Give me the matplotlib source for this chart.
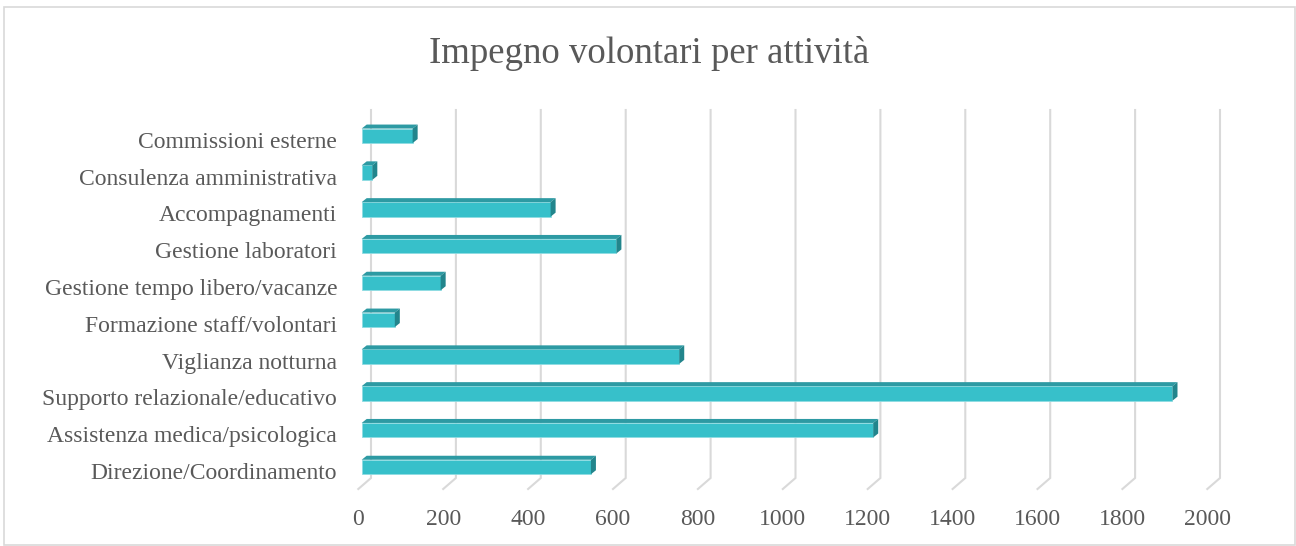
import numpy as np
import matplotlib
matplotlib.use("Agg")
from matplotlib import pyplot as plt
from matplotlib.patches import Polygon, Rectangle
from matplotlib.transforms import ScaledTranslation

# dati (dal basso verso l'alto)
categorie = ["Direzione/Coordinamento",
             "Assistenza medica/psicologica",
             "Supporto relazionale/educativo",
             "Viglianza notturna",
             "Formazione staff/volontari",
             "Gestione tempo libero/vacanze",
             "Gestione laboratori",
             "Accompagnamenti",
             "Consulenza amministrativa",
             "Commissioni esterne"]
ore = [540, 1205, 1910, 748, 78, 186, 600, 445, 25, 120]
xticks = [0, 200, 400, 600, 800, 1000, 1200, 1400, 1600, 1800, 2000]
titolo = "Impegno volontari per attività"

plt.rcParams['font.family'] = ['Liberation Serif', 'DejaVu Serif']
grigio = '#595959'
W, H = 1296, 546

fig = plt.figure(figsize=(W/100, H/100), dpi=100)

# area del grafico in pixel: sinistra 340, destra 1250, alto 100, basso 500
L, R, T, B = 340, 1250, 100, 500
ax = fig.add_axes([L/W, 1 - B/H, (R-L)/W, (B-T)/H])

# scala: valore 0 -> px 361.7, 0.4245 px per unita; categoria 0 -> px 467, 36.8 px per categoria
x0, sx = 361.7, 0.4245
y0, sy = 467.0, 36.8
ax.set_xlim((L - x0)/sx, (R - x0)/sx)
ax.set_ylim((y0 - B)/sy, (y0 - T)/sy)

# profondita 3d in unita dati
dx = 5/sx
dy = 4/sy
h = 14.5/sy

# griglia: piano di fondo + diagonale sul pavimento
back_off = 9.3/sx
front_off = -3.4/sx
y_top = (y0 - 110)/sy
y_back = (y0 - 478)/sy
y_front = (y0 - 489)/sy
for v in xticks:
    ax.plot([v + back_off, v + back_off, v + front_off],
            [y_top, y_back, y_front], color='#D9D9D9', lw=1.5,
            solid_joinstyle='miter', clip_on=False, zorder=1)

pos = np.arange(len(categorie))
ax.barh(pos, ore, height=h, left=0, color='#37C0CA',
        edgecolor='#8FDCE2', linewidth=0.6, zorder=3)
for i, v in zip(pos, ore):
    top = Polygon([(0, i + h/2), (v, i + h/2), (v + dx, i + h/2 + dy), (dx, i + h/2 + dy)],
                  closed=True, facecolor='#2D9AA3', edgecolor='none', zorder=3)
    side = Polygon([(v, i - h/2), (v, i + h/2), (v + dx, i + h/2 + dy), (v + dx, i - h/2 + dy)],
                   closed=True, facecolor='#22858C', edgecolor='none', zorder=3)
    ax.add_patch(top)
    ax.add_patch(side)

ax.set_yticks(pos)
ax.set_yticklabels(categorie)
ax.set_xticks(xticks)
ax.set_xticklabels([str(t) for t in xticks])
ax.tick_params(axis='y', length=0, pad=2, labelsize=17, labelcolor=grigio)
ax.tick_params(axis='x', length=0, pad=6.5, labelsize=17, labelcolor=grigio)

# etichette spostate come nel grafico 3d di Excel
sposta_y = ScaledTranslation(0, -4/100, fig.dpi_scale_trans)
for lab in ax.get_yticklabels():
    lab.set_transform(lab.get_transform() + sposta_y)
sposta_x = ScaledTranslation(-3.4/100, 0, fig.dpi_scale_trans)
for lab in ax.get_xticklabels():
    lab.set_transform(lab.get_transform() + sposta_x)

for s in ax.spines.values():
    s.set_visible(False)
ax.patch.set_alpha(0)

fig.text(649.5/W, 1 - 63/H, titolo, ha='center', va='baseline',
         fontsize=26.5, color=grigio)

# bordo del grafico
fig.patches.append(Rectangle((3.5/W, 1 - 545/H), (1295 - 3.5)/W, (545 - 7)/H,
                             transform=fig.transFigure, fill=False,
                             edgecolor='#D9D9D9', lw=1.2))

fig.savefig('out.png', dpi=100)
